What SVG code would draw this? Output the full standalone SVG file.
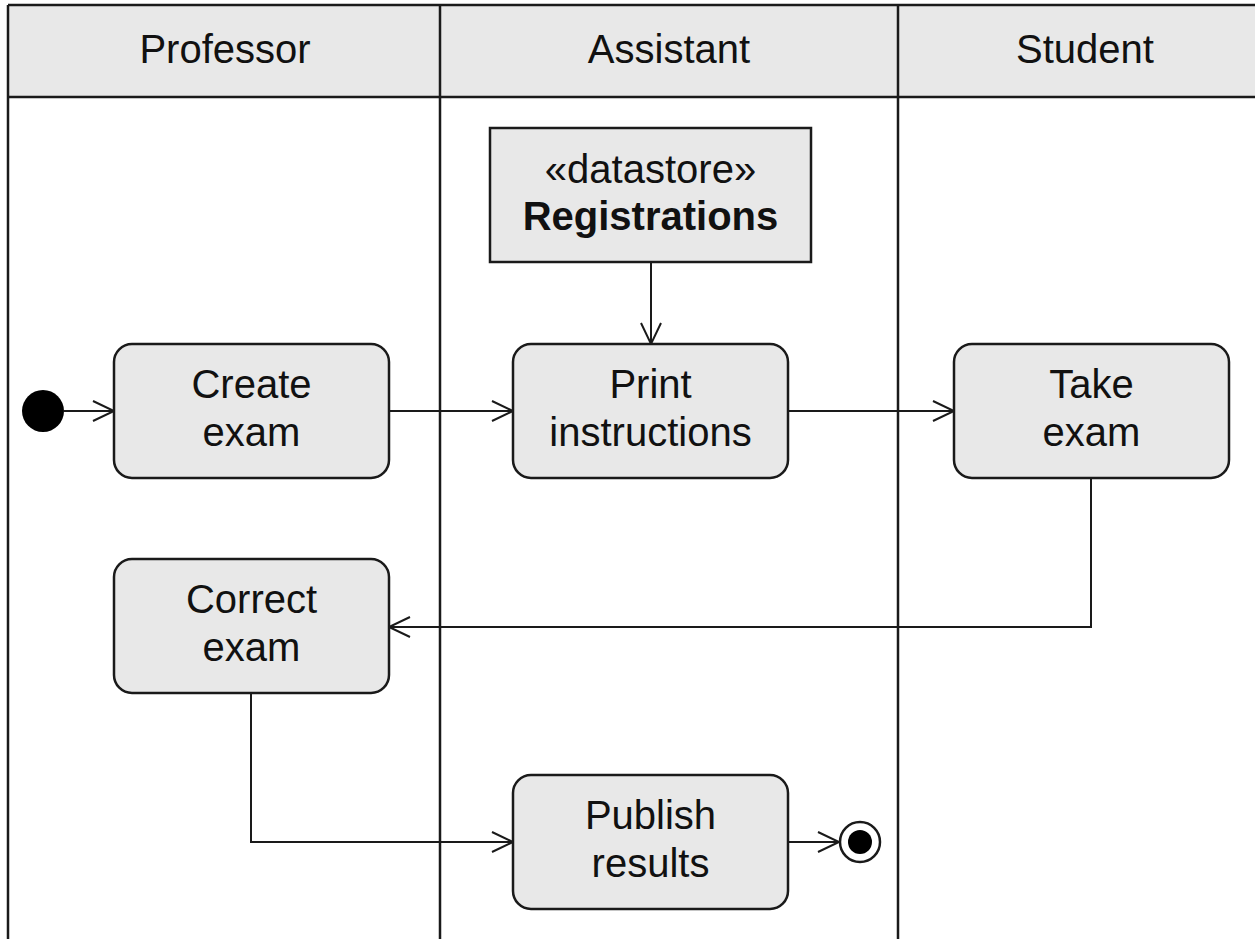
<svg xmlns="http://www.w3.org/2000/svg" width="1255" height="939" viewBox="0 0 1255 939">
<defs>
<marker id="open" markerWidth="26" markerHeight="24" refX="22" refY="12" orient="auto" markerUnits="userSpaceOnUse">
<path d="M1,2 L22,12 L1,22" fill="none" stroke="#1a1a1a" stroke-width="2"/>
</marker>
</defs>
<style>
.lane{stroke:#1a1a1a;stroke-width:2.5;fill:none}
.hdr{fill:#e8e8e8;stroke:none}
.act{fill:#e8e8e8;stroke:#1a1a1a;stroke-width:2.5}
.t{font-family:"Liberation Sans",Arial,sans-serif;font-size:40px;fill:#111;text-anchor:middle}
.b{font-weight:bold}
.c{fill:none;stroke:#1a1a1a;stroke-width:2}
</style>
<rect width="1255" height="939" fill="#fff"/>
<g id="swimlanes">
<rect class="hdr" x="8" y="5" width="1247" height="92"/>
<path class="lane" d="M8,5 H1255 M8,97 H1255 M8,5 V939 M440,5 V939 M898,5 V939"/>
<text class="t" x="225" y="63">Professor</text>
<text class="t" x="669" y="63">Assistant</text>
<text class="t" x="1085" y="63">Student</text>
</g>
<g id="connectors">
<path class="c" d="M64,411 H114" marker-end="url(#open)"/>
<path class="c" d="M389,411 H513" marker-end="url(#open)"/>
<path class="c" d="M788,411 H954" marker-end="url(#open)"/>
<path class="c" d="M651,262 V344" marker-end="url(#open)"/>
<path class="c" d="M1091,478 V627 H389" marker-end="url(#open)"/>
<path class="c" d="M251,693 V842 H513" marker-end="url(#open)"/>
<path class="c" d="M788,842 H839" marker-end="url(#open)"/>
</g>
<g id="initial"><circle cx="43" cy="411" r="21" fill="#000"/></g>
<g id="create-exam">
<rect class="act" x="114" y="344" width="275" height="134" rx="18"/>
<text class="t" x="251.5" y="398">Create</text>
<text class="t" x="251.5" y="446">exam</text>
</g>
<g id="registrations">
<rect class="act" x="490" y="128" width="321" height="134"/>
<text class="t" x="650.5" y="183">«datastore»</text>
<text class="t b" x="650.5" y="230">Registrations</text>
</g>
<g id="print-instructions">
<rect class="act" x="513" y="344" width="275" height="134" rx="18"/>
<text class="t" x="650.5" y="398">Print</text>
<text class="t" x="650.5" y="446">instructions</text>
</g>
<g id="take-exam">
<rect class="act" x="954" y="344" width="275" height="134" rx="18"/>
<text class="t" x="1091.5" y="398">Take</text>
<text class="t" x="1091.5" y="446">exam</text>
</g>
<g id="correct-exam">
<rect class="act" x="114" y="559" width="275" height="134" rx="18"/>
<text class="t" x="251.5" y="613">Correct</text>
<text class="t" x="251.5" y="661">exam</text>
</g>
<g id="publish-results">
<rect class="act" x="513" y="775" width="275" height="134" rx="18"/>
<text class="t" x="650.5" y="829">Publish</text>
<text class="t" x="650.5" y="877">results</text>
</g>
<g id="final">
<circle cx="860" cy="842" r="20" fill="#fff" stroke="#1a1a1a" stroke-width="2.5"/>
<circle cx="860" cy="842" r="12" fill="#000"/>
</g>
</svg>
